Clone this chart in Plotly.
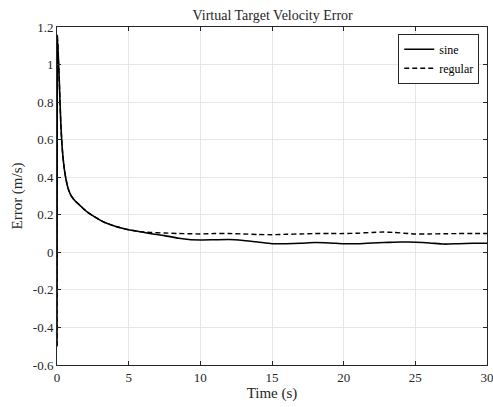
import plotly.graph_objects as go

time_s = [0, 0.02, 0.1, 0.17, 0.27, 0.38, 0.5, 0.65, 0.8, 1.0, 1.25, 1.6, 2.1, 2.6, 3.3, 4.0,
          5.0, 5.8, 6.5, 7.5, 8.5, 9.2, 10, 11, 12, 13, 14, 15, 16, 17, 18, 19, 20, 21, 22,
          22.8, 23.5, 24.5, 25, 26, 27, 28, 29, 30]
sine = [-0.5, 1.156, 1.03, 0.89, 0.68, 0.54, 0.45, 0.38, 0.335, 0.30, 0.275, 0.25, 0.215, 0.19,
        0.16, 0.14, 0.12, 0.11, 0.10, 0.089, 0.075, 0.068, 0.066, 0.067, 0.068, 0.063, 0.055,
        0.046, 0.046, 0.048, 0.052, 0.05, 0.046, 0.046, 0.05, 0.052, 0.054, 0.055, 0.054, 0.05,
        0.044, 0.046, 0.048, 0.048]
regular = [-0.5, 1.156, 1.03, 0.89, 0.68, 0.54, 0.45, 0.38, 0.335, 0.30, 0.275, 0.25, 0.215, 0.19,
           0.16, 0.14, 0.12, 0.11, 0.106, 0.103, 0.1, 0.099, 0.098, 0.1, 0.1, 0.098, 0.095,
           0.094, 0.096, 0.098, 0.1, 0.1, 0.1, 0.102, 0.106, 0.108, 0.106, 0.1, 0.098, 0.098,
           0.099, 0.1, 0.1, 0.1]

y_ticks = [-0.6, -0.4, -0.2, 0, 0.2, 0.4, 0.6, 0.8, 1, 1.2]
y_labels = ["-0.6", "-0.4", "-0.2", "0", "0.2", "0.4", "0.6", "0.8", "1", "1.2"]
x_ticks = [0, 5, 10, 15, 20, 25, 30]

FONT = "Liberation Serif"
AX = "#262626"

fig = go.Figure()
fig.add_trace(go.Scatter(x=time_s, y=sine, mode="lines", name="sine",
                         line=dict(color="black", width=1.6, shape="spline", smoothing=0.6)))
fig.add_trace(go.Scatter(x=time_s, y=regular, mode="lines", name="regular",
                         line=dict(color="black", width=1.4, dash="5px,3px", shape="spline", smoothing=0.6)))

axis_common = dict(showline=True, linecolor=AX, linewidth=1, mirror="ticks",
                   ticks="inside", ticklen=4, tickcolor=AX,
                   showgrid=True, gridcolor="#e6e6e6", gridwidth=1, zeroline=False,
                   ticklabeloverflow="allow", automargin=False,
                   tickfont=dict(family=FONT, size=13, color=AX))

fig.update_xaxes(range=[0, 30], tickvals=x_ticks,
                 title=dict(text="Time (s)", font=dict(family=FONT, size=15, color=AX), standoff=2),
                 **axis_common)
fig.update_yaxes(range=[-0.6, 1.2], tickvals=y_ticks, ticktext=y_labels,
                 title=dict(text="Error (m/s)", font=dict(family=FONT, size=15, color=AX), standoff=6),
                 **axis_common)

fig.update_layout(
    width=493, height=407,
    margin=dict(l=57, r=6, t=27, b=42),
    paper_bgcolor="white", plot_bgcolor="white",
    font=dict(family=FONT, color=AX),
    title=dict(text="Virtual Target Velocity Error", x=0.553, xanchor="center", y=0.963, yanchor="middle",
               font=dict(family=FONT, size=14, color=AX)),
    legend=dict(x=0.982, y=0.98, xanchor="right", yanchor="top",
                bgcolor="white", bordercolor=AX, borderwidth=1,
                font=dict(family=FONT, size=12, color="black"),
                tracegroupgap=0, itemwidth=30),
    showlegend=True,
)

fig.write_html("out.html")
